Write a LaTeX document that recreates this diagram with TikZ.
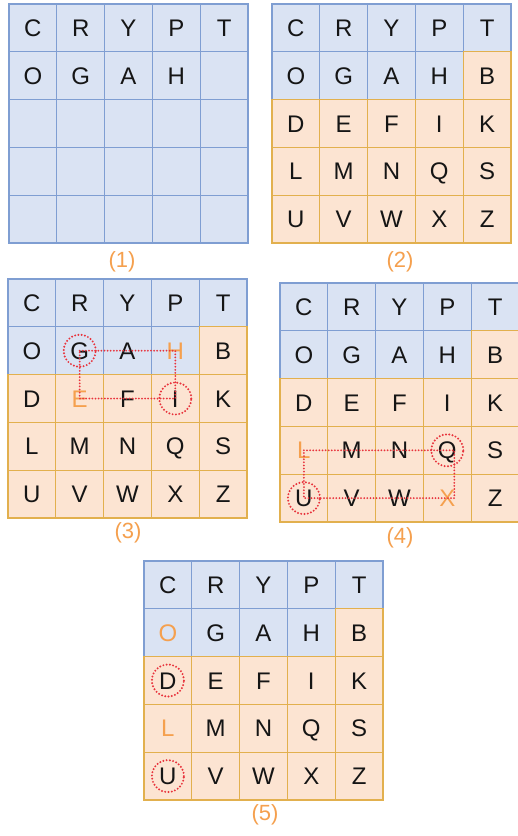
\documentclass[tikz,border=0pt]{standalone}
\usepackage{fontspec}
\setmainfont{Liberation Sans}
\definecolor{bfill}{HTML}{DAE3F3}
\definecolor{bline}{HTML}{7F9ED2}
\definecolor{ofill}{HTML}{FCE4D2}
\definecolor{oline}{HTML}{E2B04E}
\definecolor{olab}{HTML}{F5A04E}
\definecolor{ink}{HTML}{151515}
\definecolor{dotred}{HTML}{E8333C}
\tikzset{
  cell/.style={draw, line width=1.2pt, minimum size=47.8pt, inner sep=0pt, outer sep=0pt,
    font=\fontsize{24}{24}\selectfont, text height=17.2pt, text depth=0pt},
  bcell/.style={cell, fill=bfill, draw=bline},
  ocell/.style={cell, fill=ofill, draw=oline},
  lab/.style={font=\fontsize{22}{22}\selectfont, text=olab, inner sep=0pt},
  ring/.style={draw=dotred, line width=2.2pt, dash pattern=on 0pt off 3.3pt, line cap=round,
    circle, minimum size=32pt, inner sep=0pt},
  trail/.style={draw=dotred, line width=2pt, dash pattern=on 0pt off 3.1pt, line cap=round},
}
\expandafter\def\csname hl-g3-1-3\endcsname{}
\expandafter\def\csname hl-g3-2-1\endcsname{}
\expandafter\def\csname hl-g4-3-0\endcsname{}
\expandafter\def\csname hl-g4-4-3\endcsname{}
\expandafter\def\csname hl-g5-1-0\endcsname{}
\expandafter\def\csname hl-g5-3-0\endcsname{}
% #1 name, #2 x, #3 y, #4 = 1 for the all-blue first grid
\newcommand\mkgrid[4]{%
  \foreach \pass in {0,1}{%
    \foreach \rr/\row in {0/{C,R,Y,P,T},1/{O,G,A,H,B},2/{D,E,F,I,K},3/{L,M,N,Q,S},4/{U,V,W,X,Z}}{%
      \foreach \letr [count=\cc from 0] in \row {%
        \pgfmathtruncatemacro\isblue{(#4==1) || (\rr==0) || ((\rr==1) && (\cc<4))}%
        \pgfmathtruncatemacro\isempty{(#4==1) && ((\rr>1) || ((\rr==1) && (\cc==4)))}%
        \pgfmathtruncatemacro\want{1-\pass}%
        \ifnum\isblue=\want\relax
          \ifcsname hl-#1-\rr-\cc\endcsname\def\lcol{olab}\else\def\lcol{ink}\fi
          \ifnum\isempty=1 \def\ltxt{}\else\let\ltxt\letr\fi
          \ifnum\isblue=1
            \node[bcell, text=\lcol] (#1-\rr-\cc) at ({#2+47.8*\cc+23.9},{#3+47.8*\rr+23.9}) {\ltxt};
          \else
            \node[ocell, text=\lcol] (#1-\rr-\cc) at ({#2+47.8*\cc+23.9},{#3+47.8*\rr+23.9}) {\ltxt};
          \fi
        \fi
      }%
    }%
  }%
}
\begin{document}
\begin{tikzpicture}[x=1pt,y=-1pt]
\fill[white] (0,0) rectangle (518,836);
\useasboundingbox (0,0) rectangle (518,836);

\mkgrid{g1}{9}{4}{1}
\mkgrid{g2}{272}{4}{0}
\mkgrid{g3}{8}{279}{0}
\mkgrid{g4}{280}{283}{0}
\mkgrid{g5}{144}{561}{0}

% grid 3 trail
\draw[trail] (g3-1-1.center) -- (g3-1-3.center) -- (g3-2-3.center) -- (g3-2-1.center) -- cycle;
\node[ring] (r3a) at (g3-1-1) {};
\node[ring] (r3b) at (g3-2-3) {};

% grid 4 trail
\draw[trail] (g4-3-0.center) -- ([xshift=7pt]g4-3-3.center) -- ([xshift=7pt]g4-4-3.center) -- (g4-4-0.center) -- cycle;
\node[ring] (r4a) at (g4-3-3) {};
\node[ring] (r4b) at (g4-4-0) {};

% grid 5 rings
\node[ring] (r5a) at (g5-2-0) {};
\node[ring] (r5b) at (g5-4-0) {};

% labels
\node[lab] (l1) at (122,262) {(1)};
\node[lab] (l2) at (400,262) {(2)};
\node[lab] (l3) at (128,533) {(3)};
\node[lab] (l4) at (400,538) {(4)};
\node[lab] (l5) at (265,815) {(5)};
\end{tikzpicture}
\end{document}
